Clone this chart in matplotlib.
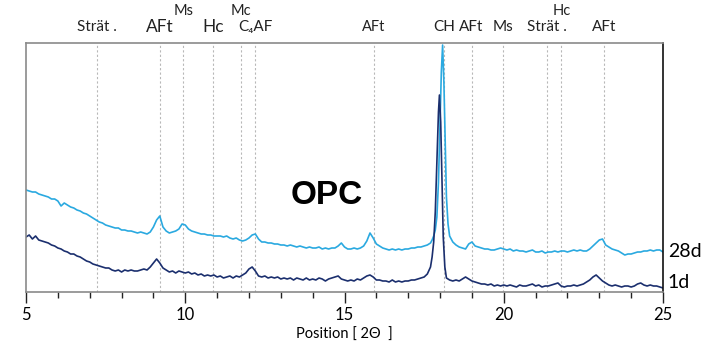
import numpy as np
import matplotlib
matplotlib.use("Agg")
import matplotlib.pyplot as plt
from matplotlib.ticker import MultipleLocator

plt.rcParams["font.family"] = ["Lato", "DejaVu Sans"]


def grid(a, b):
    """Regular 0.1 deg sampling from a to b inclusive."""
    return list(np.round(np.arange(a, b + 0.05, 0.1), 2))


# XRD pattern after 1 day (2-theta in degrees, intensity in arbitrary units)
two_theta_1d = (grid(5.0, 17.7)
                + [17.75, 17.8, 17.85, 17.9, 17.95, 17.98, 18.02, 18.06, 18.1, 18.15, 18.2]
                + grid(18.3, 25.0))
intensity_1d = [55, 57, 53, 56, 52, 51, 50, 49, 47, 46, 44,
                43, 41, 40, 38, 38, 36, 35, 33, 31, 30,
                28, 27, 26, 25, 24, 24, 22, 21, 22, 20,
                22, 21, 22, 21, 21, 22, 23, 22, 25, 29,
                33, 29, 24, 22, 20, 21, 19, 21, 20, 19,
                20, 18, 19, 17, 18, 16, 17, 16, 17, 15,
                16, 14, 15, 16, 14, 16, 15, 17, 19, 23,
                25, 21, 16, 15, 16, 14, 15, 14, 15, 13,
                14, 13, 14, 12, 14, 13, 12, 14, 12, 13,
                12, 14, 13, 11, 13, 14, 15, 16, 13, 12,
                11, 12, 11, 13, 12, 14, 16, 17, 15, 12,
                12, 11, 11, 10, 12, 10, 11, 10, 11, 11,
                12, 12, 13, 14, 15, 18, 25,
                35, 50, 80, 130, 180, 197, 170, 110, 55, 25, 14,
                12, 11, 12, 11, 13, 15, 13, 11,
                10, 9, 8, 8, 7, 8, 6, 7, 6, 7,
                6, 7, 6, 5, 7, 6, 6, 7, 8, 6,
                7, 5, 6, 6, 7, 8, 9, 6, 5, 6,
                6, 7, 6, 7, 8, 10, 12, 15, 17, 14,
                11, 9, 7, 6, 7, 6, 5, 6, 6, 5,
                6, 8, 9, 7, 6, 7, 6, 6, 5, 4]

# XRD pattern after 28 days
two_theta_28d = (grid(5.0, 17.7)
                 + [17.75, 17.8, 17.85, 17.9, 17.95, 18.0, 18.04, 18.08, 18.12, 18.16,
                    18.2, 18.25, 18.3]
                 + grid(18.4, 25.0))
intensity_28d = [102, 101, 100, 100, 98, 97, 96, 95, 93, 93, 91,
                 86, 89, 87, 85, 84, 82, 81, 79, 78, 76,
                 74, 72, 70, 69, 67, 66, 65, 64, 64, 62,
                 62, 61, 61, 60, 59, 60, 59, 58, 60, 65,
                 72, 76, 65, 61, 59, 60, 61, 63, 68, 67,
                 63, 61, 60, 59, 58, 58, 57, 57, 56, 56,
                 56, 55, 56, 54, 53, 54, 52, 51, 52, 54,
                 57, 58, 53, 50, 50, 49, 49, 48, 48, 47,
                 47, 46, 47, 46, 45, 46, 45, 44, 45, 44,
                 44, 45, 43, 44, 43, 44, 44, 46, 49, 45,
                 43, 43, 44, 43, 44, 46, 51, 59, 54, 48,
                 46, 44, 43, 42, 43, 42, 43, 42, 43, 43,
                 44, 44, 45, 45, 46, 47, 49,
                 52, 56, 62, 75, 110, 170, 220, 247, 210, 150, 95, 68, 56,
                 50, 47, 45, 44, 43, 48, 50,
                 46, 45, 44, 43, 43, 42, 42, 43, 44, 43,
                 42, 43, 41, 42, 41, 41, 40, 41, 42, 40,
                 40, 41, 39, 40, 40, 41, 40, 41, 41, 40,
                 41, 42, 41, 42, 41, 41, 43, 46, 49, 52,
                 53, 47, 45, 43, 42, 41, 39, 37, 38, 38,
                 39, 40, 40, 41, 41, 42, 41, 42, 42, 40]

# Reference reflections: position, label, row (0 = lower, 1 = upper), font size
ref_pos = [7.22, 9.21, 9.94, 10.88, 11.76, 12.2, 15.93, 18.13, 18.99, 19.97, 21.35, 21.81, 23.15]
ref_labels = ["Strät .", "AFt", "Ms", "Hc", "Mc", "C₄AF", "AFt", "CH", "AFt", "Ms",
              "Strät .", "Hc", "AFt"]
ref_rows = [0, 0, 1, 0, 1, 0, 0, 0, 0, 0, 0, 1, 0]
ref_sizes = [11, 12.5, 10.5, 12.5, 10.5, 11, 10.5, 11, 11, 11, 11, 10.5, 11]

x_ticks = [5, 10, 15, 20, 25]

fig = plt.figure(figsize=(7.11, 3.43), dpi=100)
ax = fig.add_axes([0.0366, 0.1487, 0.8959, 0.7259])

ax.plot(two_theta_28d, intensity_28d, color="#2aa9e0", lw=1.2)
ax.plot(two_theta_1d, intensity_1d, color="#1b2f6e", lw=1.2)

for p in ref_pos:
    ax.axvline(p, color="#b8b8b8", lw=0.8, ls=(0, (2, 2)), zorder=0)

ax.set_xlim(5, 25)
ax.set_ylim(0, 249)
ax.set_yticks([])
ax.xaxis.set_minor_locator(MultipleLocator(1))
ax.set_xticks(x_ticks)
ax.tick_params(axis="x", which="major", length=8, width=1, color="#222222",
               labelsize=12, pad=3)
ax.tick_params(axis="x", which="minor", length=4, width=1, color="#222222")

for side in ("top", "left", "bottom"):
    ax.spines[side].set_color("#8a8a8a")
    ax.spines[side].set_linewidth(1.2)
ax.spines["right"].set_color("#111111")
ax.spines["right"].set_linewidth(1.2)

ax.set_xlabel("Position [ 2Θ  ]", fontsize=10.5, labelpad=3)

trans = ax.get_xaxis_transform()
for p, lab, row, fs in zip(ref_pos, ref_labels, ref_rows, ref_sizes):
    y = 1.065 if row == 0 else 1.13
    ax.text(p, y, lab, transform=trans, ha="center", va="center",
            fontsize=fs, color="#222222", clip_on=False)

ax.text(14.45, 97, "OPC", fontsize=24, fontweight="bold", ha="center", va="center",
        color="black", family="Liberation Sans")

ax.text(25.15, 40, "28d", fontsize=14, ha="left", va="center", clip_on=False)
ax.text(25.15, 9, "1d", fontsize=14, ha="left", va="center", clip_on=False)

fig.savefig("out.png", dpi=100)
